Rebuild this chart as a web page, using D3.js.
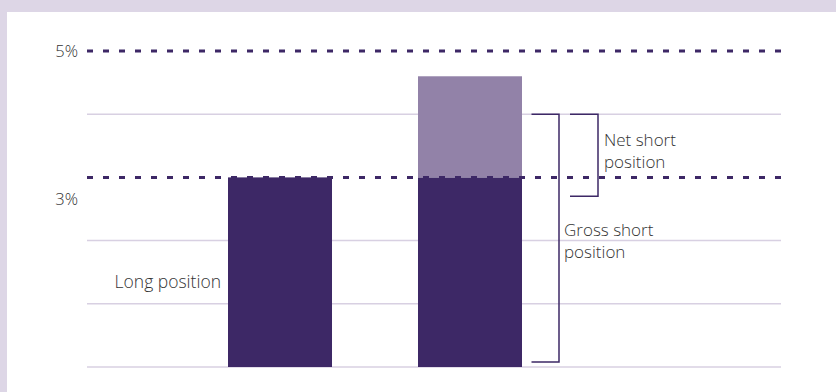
<!DOCTYPE html>
<html>
<head>
<meta charset="utf-8">
<script src="https://cdn.jsdelivr.net/npm/d3@7"></script>
<style>
  html, body { margin: 0; padding: 0; background: #ddd6e6; }
  svg { display: block; }
  text { font-family: "Open Sans", Lato, sans-serif; font-weight: 300; fill: #333; }
</style>
</head>
<body>
<svg id="chart" width="836" height="392"></svg>
<script>
// Bars: long position, and the short side split into the part that offsets the long
// position and the net short on top of it (values in % of issued capital).
const categories = ["long", "short"];
const longValues = [3, 3];       // dark segment of each bar
const netShortValues = [0, 1.6]; // light segment stacked on top
const thresholds = [3, 5];       // dashed reporting thresholds
const gridValues = [0, 1, 2, 4];
const tickLabels = [{ value: 5, text: "5%" }, { value: 3, text: "3%" }];
// Bracket spans (in %) for the gross and net short annotations
const grossSpan = [0.08, 4];
const netSpan = [2.7, 4];

const colors = { dark: "#3d2866", light: "#9282a8", grid: "#d8d0e2" };

const svg = d3.select("#chart");
const W = 836, H = 392;

// white panel
svg.append("rect").attr("x", 7).attr("y", 12).attr("width", W - 7).attr("height", H - 12).attr("fill", "#fff");

const plotLeft = 87, plotRight = 781;
const y = d3.scaleLinear().domain([0, 5]).range([367, 51]);
const x = d3.scaleBand().domain(categories).range([133, 617]).paddingInner(0.4526).paddingOuter(0.5);

// solid grid lines
svg.append("g").selectAll("line").data(gridValues).join("line")
  .attr("x1", plotLeft).attr("x2", plotRight)
  .attr("y1", d => y(d)).attr("y2", d => y(d))
  .attr("stroke", colors.grid).attr("stroke-width", 1.5);

// stacked bars
const stackData = categories.map((c, i) => ({ cat: c, long: longValues[i], net: netShortValues[i] }));
const series = d3.stack().keys(["long", "net"])(stackData);
svg.append("g").selectAll("g").data(series).join("g")
  .attr("fill", d => d.key === "long" ? colors.dark : colors.light)
  .selectAll("rect").data(d => d).join("rect")
  .attr("x", d => x(d.data.cat))
  .attr("width", x.bandwidth())
  .attr("y", d => y(d[1]))
  .attr("height", d => y(d[0]) - y(d[1]));

// dashed threshold lines
svg.append("g").selectAll("line").data(thresholds).join("line")
  .attr("x1", plotLeft).attr("x2", plotRight)
  .attr("y1", d => y(d)).attr("y2", d => y(d))
  .attr("stroke", colors.dark).attr("stroke-width", 3)
  .attr("stroke-dasharray", "6 10");

// axis labels
svg.append("g").selectAll("text").data(tickLabels).join("text")
  .attr("x", 78)
  .attr("y", d => d.value === 5 ? y(d.value) + 6 : y(d.value) + 28)
  .attr("text-anchor", "end")
  .attr("font-size", 16.5)
  .text(d => d.text);

// brackets
const barRight = x("short") + x.bandwidth();
function bracket(x0, x1, span) {
  const p = d3.path();
  p.moveTo(x0, y(span[1]));
  p.lineTo(x1, y(span[1]));
  p.lineTo(x1, y(span[0]));
  p.lineTo(x0, y(span[0]));
  svg.append("path").attr("d", p.toString())
    .attr("fill", "none").attr("stroke", colors.dark).attr("stroke-width", 1.5);
}
bracket(barRight + 9.5, barRight + 37, grossSpan);
bracket(barRight + 48, barRight + 76, netSpan);

// annotation labels
function label(lines, x0, y0) {
  const t = svg.append("text").attr("x", x0).attr("y", y0).attr("font-size", 17);
  lines.forEach((s, i) => t.append("tspan").attr("x", x0).attr("dy", i ? 22 : 0).text(s));
}
label(["Net short", "position"], barRight + 82, 146);
label(["Gross short", "position"], barRight + 42, 236);
svg.append("text").attr("x", x("long") - 7).attr("y", 288)
  .attr("text-anchor", "end").attr("font-size", 17.5).text("Long position");
</script>
</body>
</html>
